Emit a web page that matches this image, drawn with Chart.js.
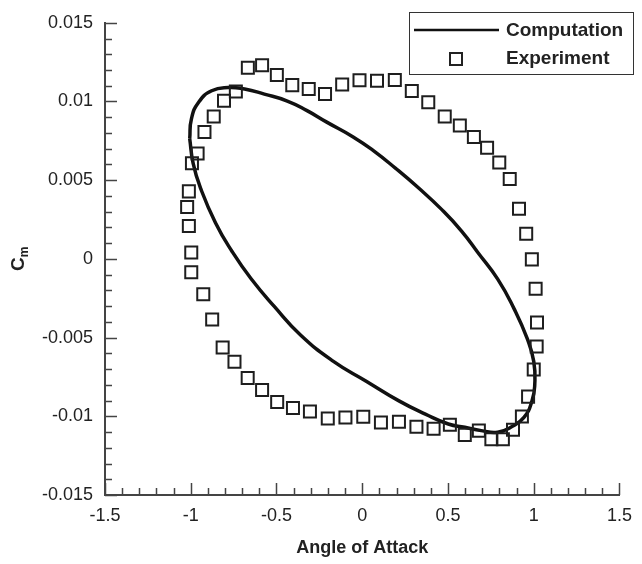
<!DOCTYPE html>
<html>
<head>
<meta charset="UTF-8">
<style>
    html, body { margin: 0; padding: 0; background: #fff; }
    #wrap { width: 642px; height: 564px; }
</style>
</head>
<body>
<div id="wrap"><canvas id="chart" width="642" height="564"></canvas></div>
<script src="https://cdn.jsdelivr.net/npm/chart.js@4.4.1/dist/chart.umd.min.js"></script>
<script>
// computed loop (clockwise from the left edge)
const compAlpha = [-1.006, -0.996, -0.954, -0.878, -0.782, -0.686, -0.571, -0.437, -0.322, -0.207,
    -0.053, 0.061, 0.195, 0.329, 0.464, 0.579, 0.674, 0.789, 0.885, 0.961,
    1.000, 1.006, 0.990, 0.943, 0.866, 0.789, 0.694, 0.598, 0.502, 0.368,
    0.214, 0.023, -0.168, -0.360, -0.513, -0.648, -0.759, -0.856, -0.943, -0.986, -1.006];
const compCm = [0.00764, 0.00890, 0.00995, 0.01068, 0.01089, 0.01079, 0.01047, 0.01003, 0.00942, 0.00869,
    0.00775, 0.00691, 0.00575, 0.00450, 0.00313, 0.00177, 0.00041, -0.00127, -0.00316, -0.00504,
    -0.00651, -0.00797, -0.00902, -0.01007, -0.01070, -0.01102, -0.01091, -0.01070, -0.01049, -0.00986,
    -0.00902, -0.00777, -0.00651, -0.00483, -0.00302, -0.00126, 0.00047, 0.00230, 0.00450, 0.00607, 0.00764];

// experiment squares
const expAlpha = [-0.993, -0.960, -0.920, -0.866, -0.806, -0.737, -0.667, -0.584, -0.498, -0.408,
    -0.312, -0.217, -0.117, -0.016, 0.086, 0.190, 0.289, 0.385, 0.481, 0.569,
    0.651, 0.728, 0.799, 0.860, 0.914, 0.956, 0.989, 1.011, 1.019, 1.017,
    1.000, 0.967, 0.931, 0.879, 0.820, 0.753, 0.680, 0.598, 0.511, 0.416,
    0.316, 0.214, 0.109, 0.006, -0.098, -0.201, -0.305, -0.404, -0.496, -0.584,
    -0.668, -0.745, -0.814, -0.875, -0.927, -0.997, -0.997, -1.011, -1.021, -1.011];
const expCm = [0.00607, 0.00670, 0.00806, 0.00904, 0.01005, 0.01064, 0.01215, 0.01230, 0.01168, 0.01104,
    0.01079, 0.01047, 0.01108, 0.01135, 0.01132, 0.01137, 0.01066, 0.00995, 0.00904, 0.00848,
    0.00775, 0.00706, 0.00613, 0.00508, 0.00318, 0.00160, -0.00003, -0.00190, -0.00404, -0.00557,
    -0.00703, -0.00875, -0.01001, -0.01085, -0.01146, -0.01146, -0.01091, -0.01118, -0.01053, -0.01079,
    -0.01066, -0.01035, -0.01039, -0.01003, -0.01008, -0.01014, -0.00970, -0.00947, -0.00909, -0.00833,
    -0.00756, -0.00653, -0.00563, -0.00385, -0.00225, -0.00085, 0.00041, 0.00209, 0.00330, 0.00429];

const xTicks = [-1.5, -1, -0.5, 0, 0.5, 1, 1.5];
const xTickLabels = ['-1.5', '-1', '-0.5', '0', '0.5', '1', '1.5'];
const yTicks = [-0.015, -0.01, -0.005, 0, 0.005, 0.01, 0.015];
const yTickLabels = ['-0.015', '-0.01', '-0.005', '0', '0.005', '0.01', '0.015'];

const FONT = "'Liberation Sans', Arial, sans-serif";
const AXIS_COLOR = '#444';

// inward major/minor ticks, axis titles and the boxed legend
const decorations = {
    id: 'decorations',
    afterDraw(chart) {
        const ctx = chart.ctx;
        const a = chart.chartArea;
        const x = chart.scales.x, y = chart.scales.y;
        ctx.save();
        ctx.strokeStyle = AXIS_COLOR;
        ctx.lineWidth = 1.5;
        ctx.beginPath();
        for (let i = 0; i <= 30; i++) {
            const px = Math.round(x.getPixelForValue(-1.5 + i * 0.1)) + 0.5;
            const len = i % 5 === 0 ? 12 : 7;
            ctx.moveTo(px, a.bottom);
            ctx.lineTo(px, a.bottom - len);
        }
        for (let i = 0; i <= 30; i++) {
            const py = Math.round(y.getPixelForValue(-0.015 + i * 0.001)) + 0.5;
            const len = i % 5 === 0 ? 12 : 7;
            ctx.moveTo(a.left, py);
            ctx.lineTo(a.left + len, py);
        }
        ctx.stroke();

        // x title
        ctx.fillStyle = '#222';
        ctx.font = 'bold 18px ' + FONT;
        ctx.textAlign = 'center';
        ctx.textBaseline = 'middle';
        ctx.fillText('Angle of Attack', (a.left + a.right) / 2, 548);

        // y title C_m
        ctx.save();
        ctx.translate(19, (a.top + a.bottom) / 2);
        ctx.rotate(-Math.PI / 2);
        ctx.font = 'bold 19px ' + FONT;
        const wC = ctx.measureText('C').width;
        ctx.font = 'bold 12px ' + FONT;
        const wm = ctx.measureText('m').width;
        const x0 = -(wC + wm) / 2;
        ctx.textAlign = 'left';
        ctx.font = 'bold 19px ' + FONT;
        ctx.fillText('C', x0, 0);
        ctx.font = 'bold 12px ' + FONT;
        ctx.fillText('m', x0 + wC, 6);
        ctx.restore();

        // legend
        ctx.fillStyle = '#fff';
        ctx.fillRect(409, 12, 224, 62);
        ctx.strokeStyle = '#333';
        ctx.lineWidth = 1;
        ctx.strokeRect(409.5, 12.5, 224, 62);
        ctx.strokeStyle = '#111';
        ctx.lineWidth = 2.5;
        ctx.beginPath();
        ctx.moveTo(414, 30);
        ctx.lineTo(499, 30);
        ctx.stroke();
        ctx.lineWidth = 2;
        ctx.strokeStyle = '#222';
        ctx.strokeRect(450, 53, 12, 12);
        ctx.fillStyle = '#222';
        ctx.font = 'bold 19px ' + FONT;
        ctx.textAlign = 'left';
        ctx.textBaseline = 'middle';
        ctx.fillText('Computation', 506, 31);
        ctx.fillText('Experiment', 506, 59);
        ctx.restore();
    }
};

new Chart(document.getElementById('chart'), {
    type: 'scatter',
    data: {
        datasets: [{
            label: 'Computation',
            data: compAlpha.map((v, i) => ({ x: v, y: compCm[i] })),
            showLine: true,
            borderColor: '#111',
            borderWidth: 3.5,
            pointRadius: 0,
            tension: 0.5,
            order: 2
        }, {
            label: 'Experiment',
            data: expAlpha.map((v, i) => ({ x: v, y: expCm[i] })),
            showLine: false,
            pointStyle: 'rect',
            pointRadius: 8.5,
            pointBorderWidth: 2,
            pointBorderColor: '#1e1e1e',
            pointBackgroundColor: 'rgba(0,0,0,0)',
            order: 1
        }]
    },
    options: {
        responsive: false,
        devicePixelRatio: 1,
        animation: false,
        layout: { padding: { left: 0, right: 15, top: 18, bottom: 0 } },
        plugins: { legend: { display: false }, tooltip: { enabled: false } },
        scales: {
            x: {
                type: 'linear',
                min: -1.5, max: 1.5,
                afterBuildTicks: s => { s.ticks = xTicks.map(v => ({ value: v })); },
                afterFit: s => { s.height = 69; },
                grid: { display: false, drawTicks: false },
                border: { display: true, color: AXIS_COLOR, width: 2 },
                ticks: {
                    padding: 10,
                    maxRotation: 0,
                    color: '#222',
                    font: { family: FONT, size: 18 },
                    callback: (v, i) => xTickLabels[i]
                }
            },
            y: {
                type: 'linear',
                min: -0.015, max: 0.015,
                afterBuildTicks: s => { s.ticks = yTicks.map(v => ({ value: v })); },
                afterFit: s => { s.width = 105; },
                grid: { display: false, drawTicks: false },
                border: { display: true, color: AXIS_COLOR, width: 2 },
                ticks: {
                    padding: 12,
                    color: '#222',
                    font: { family: FONT, size: 18 },
                    callback: (v, i) => yTickLabels[i]
                }
            }
        }
    },
    plugins: [decorations]
});
</script>
</body>
</html>
